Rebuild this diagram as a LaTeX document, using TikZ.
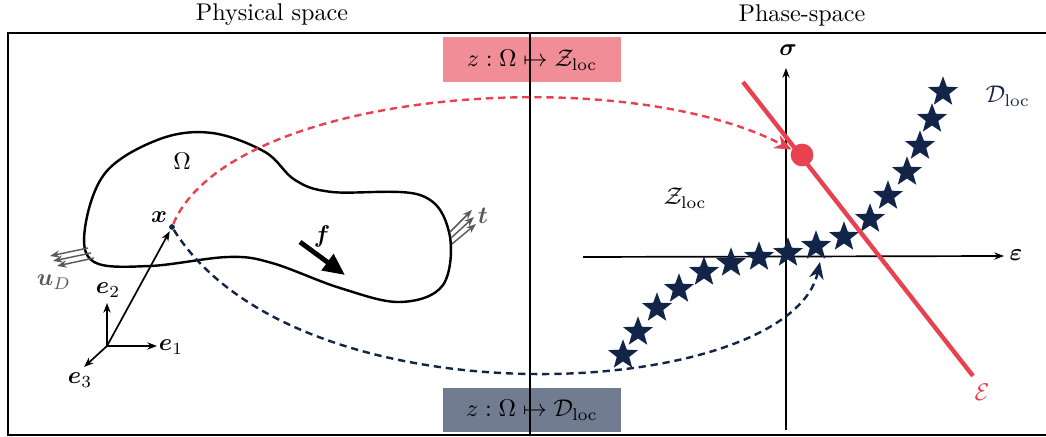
\documentclass[tikz,border=0pt]{standalone}
\usepackage{amsmath,amssymb,bm}
\usepackage{xcolor}
\usepackage{tikz}
\usetikzlibrary{arrows.meta,shapes.geometric,positioning}

\definecolor{zred}{RGB}{232,65,80}
\definecolor{dnavy}{RGB}{18,36,72}

\begin{document}
\begin{tikzpicture}[x=0.4135pt, y=-0.4135pt,
  mapbox/.style={minimum width=73.6pt, minimum height=18.6pt, inner sep=0pt, align=center},
  arr/.style={-{Stealth[length=4pt,width=3pt]}, line width=0.7pt},
  garr/.style={arr, black!65, line width=0.6pt},
  mapline/.style={dashed, dash pattern=on 3pt off 2pt, line width=1pt, -{Stealth[length=7pt,width=6pt]}},
  dstar/.style={star, star points=5, star point ratio=2.4, fill=dnavy, inner sep=0pt, minimum size=13pt},
  lab/.style={inner sep=1pt}
]
\useasboundingbox (0,0) rectangle (1046,437);

% titles and frame
\node (tphys)  at (272,15) {Physical space};
\node (tphase) at (802,15) {Phase-space};
\draw[line width=0.6pt] (8,33) rectangle (1052,435);

% mapping boxes
\node[mapbox, fill=zred!60]  (zmap) at (532,60)  {$z:\Omega\mapsto\mathcal{Z}_{\mathrm{loc}}$};
\node[mapbox, fill=dnavy!60] (dmap) at (532,410) {$z:\Omega\mapsto\mathcal{D}_{\mathrm{loc}}$};
\draw[line width=0.6pt] (530,33) -- (530,435);

% body
\draw[line width=1pt] plot[smooth cycle, tension=0.6] coordinates {
  (85,228) (106,172) (160,139) (212,133) (265,152) (295,180) (332,192)
  (420,195) (449,232) (443,285) (400,302) (340,288) (272,263) (228,257)
  (150,266) (94,262)};
\node (omega) at (182,161) {$\Omega$};

% basis
\coordinate (o) at (107,346);
\node[lab] (e1) at (171,347) {$\bm{e}_1$};
\node[lab] (e2) at (108,290) {$\bm{e}_2$};
\node[lab] (e3) at (80,380)  {$\bm{e}_3$};
\draw[arr] (o) -- (157,346);
\draw[arr] (o) -- (107,303);
\draw[arr] (o) -- (84,367);

\node[circle, fill=dnavy, inner sep=0pt, minimum size=2.4pt] (xpt) at (172,227) {};
\node[lab] (xlab) at (159,217) {$\bm{x}$};
\draw[arr, shorten >=0.6pt] (o) -- (xpt);

% loads
\draw[-{Triangle[length=9pt,width=8pt]}, line width=2pt] (300,242) -- (345,275);
\node[lab] (flab) at (322,236) {$\bm{f}$};
\draw[garr] (88,248) -- (50,256);
\draw[garr] (91,253) -- (53,261);
\draw[garr] (94,258) -- (57,266);
\node[lab, text=black!65] (ud) at (54,282) {$\bm{u}_D$};
\draw[garr] (450,232) -- (472,210);
\draw[garr] (451,238) -- (474,217);
\draw[garr] (452,244) -- (476,224);
\node[lab, text=black!65] (tlab) at (483,216) {$\bm{t}$};

% phase space
\draw[arr] (583,257) -- (1004,256);
\node[lab] (eps) at (1016,255) {$\bm{\varepsilon}$};
\draw[arr] (786,430) -- (786,68);
\node[lab] (sig) at (788,50) {$\bm{\sigma}$};
\node (zloc) at (685,198) {$\mathcal{Z}_{\mathrm{loc}}$};
\node[text=dnavy] (dloc) at (1008,96) {$\mathcal{D}_{\mathrm{loc}}$};

\foreach \p [count=\i] in {(623,355),(638,332),(657,308),(679,289),(704,272),(731,263),
  (759,257),(788,253),(816,246),(844,237),(870,219),(888,196),(907,172),(920,146),(932,119),(943,92)}
  \node[dstar] (s\i) at \p {};

\draw[zred, line width=1.8pt] (743,82) -- (973,376);
\node[text=zred] (elab) at (982,392) {$\mathcal{E}$};
\node[circle, fill=zred, inner sep=0pt, minimum size=9.4pt] (zpt) at (802,155) {};
\coordinate (dpt) at (820,262);

% mappings
\draw[mapline, zred] (xpt) .. controls (230,90) and (620,60) .. (zpt);
\draw[mapline, dnavy] (xpt) .. controls (300,430) and (790,400) .. (dpt);
\end{tikzpicture}
\end{document}
